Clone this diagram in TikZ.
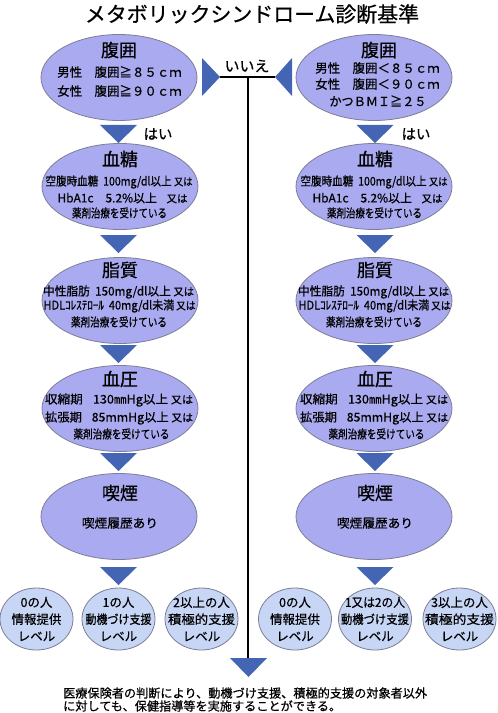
\documentclass[tikz,border=0pt]{standalone}
\usepackage{fontspec}
\usepackage{graphicx}
\setmainfont{Noto Sans CJK JP}[FakeBold=0.6]
\usetikzlibrary{shapes.geometric}
\definecolor{ellfill}{RGB}{170,170,240}
\definecolor{cirfill}{RGB}{200,214,246}
\definecolor{tri}{RGB}{68,100,180}
\definecolor{edge}{RGB}{125,125,150}
\newcommand\mymata{{\fontsize{10.5}{12}\selectfont 又は}}
\newcommand\fitw[2]{\resizebox{#1bp}{\height}{#2}}
\begin{document}
\begin{tikzpicture}[x=1bp,y=-1bp,
  big/.style={ellipse,draw=edge,fill=ellfill,line width=0.8bp,minimum width=156bp,minimum height=86bp,inner sep=0},
  small/.style={ellipse,draw=edge,fill=cirfill,line width=0.8bp,minimum width=73bp,minimum height=62bp,inner sep=0},
  head/.style={font=\fontsize{18}{20}\selectfont,inner sep=0},
  body/.style={font=\fontsize{12.5}{14}\selectfont,inner sep=0},
  bodys/.style={font=\fontsize{12}{13}\selectfont,inner sep=0},
  sm/.style={font=\fontsize{12.5}{17}\selectfont,inner sep=0,align=center},
  conn/.style={line width=2bp,draw=black}
]
\useasboundingbox (0,0) rectangle (498,713);
\fill[white] (0,0) rectangle (498,713);

% title
\node[font=\fontsize{21}{24}\selectfont,inner sep=0] (title) at (252,14) {メタボリックシンドローム診断基準};

% connectors
\coordinate (hl) at (220,77);
\coordinate (hr) at (275,77);
\coordinate (jn) at (248,77);
\coordinate (bt) at (248,659);
\draw[conn] (hl) -- (hr);
\draw[conn] (jn) -- (bt);
\fill[tri] (202,58) -- (220,77) -- (202,96) -- cycle;
\fill[tri] (292,58) -- (275,77) -- (292,96) -- cycle;
\fill[tri] (230,658) -- (267,658) -- (248.5,677) -- cycle;
\node[font=\fontsize{15}{17}\selectfont,inner sep=0] (iie) at (247,66) {いいえ};

% ellipses left
\node[big] (fL) at (119,77.5) {};
\node[big] (kL) at (120,186.5) {};
\node[big] (sL) at (120,300.5) {};
\node[big] (aL) at (120,408.5) {};
\node[big] (eL) at (119,516.5) {};
% ellipses right
\node[big] (fR) at (374,77.5) {};
\node[big] (kR) at (374,186.5) {};
\node[big] (sR) at (374,300.5) {};
\node[big] (aR) at (374,408.5) {};
\node[big] (eR) at (374,516.5) {};

% down triangles
\foreach \cx in {118.5,375}{
  \foreach \ty in {125,235,345,453,567}{
    \fill[tri] (\cx-18.5,\ty) -- (\cx+18.5,\ty) -- (\cx,\ty+18) -- cycle;
  }
}
\node[font=\fontsize{14.5}{16}\selectfont,inner sep=0] (haiL) at (158,134) {はい};
\node[font=\fontsize{14.5}{16}\selectfont,inner sep=0] (haiR) at (416,134) {はい};

% 腹囲 left
\node[head] (fLh) at (119,50) {腹囲};
\node[body] (fL1) at (119.5,72) {男性　腹囲≧８５ｃｍ};
\node[body] (fL2) at (119.5,91) {女性　腹囲≧９０ｃｍ};
% 腹囲 right
\node[head] (fRh) at (379,50) {腹囲};
\node[body] (fR1) at (377.5,68) {男性　腹囲＜８５ｃｍ};
\node[body] (fR2) at (377.5,84) {女性　腹囲＜９０ｃｍ};
\node[body] (fR3) at (378,101) {\fitw{97}{かつＢＭＩ≧２５}};

\foreach \side/\cx in {L/120,R/375}{
  % 血糖
  \node[head] (k\side h) at (\cx,159) {血糖};
  \node[bodys] (k\side 1) at (\cx-1,182) {\fitw{147}{空腹時血糖\ \ 100mg/dl以上\ \mymata}};
  \node[bodys] (k\side 2) at (\cx+2.5,198) {\fitw{130}{HbA1c\hspace{1em}5.2\%以上\hspace{0.8em}\mymata}};
  \node[bodys] (k\side 3) at (\cx-0.5,213) {\fitw{95}{薬剤治療を受けている}};
  % 脂質
  \node[head] (s\side h) at (\cx,270) {脂質};
  \node[bodys] (s\side 1) at (\cx-1.5,292) {\fitw{151}{中性脂肪\ \ 150mg/dl以上\ \mymata}};
  \node[bodys] (s\side 2) at (\cx-0.5,306) {\fitw{152}{HDLｺﾚｽﾃﾛｰﾙ\ \ 40mg/dl未満\,\mymata}};
  \node[bodys] (s\side 3) at (\cx-1,322) {\fitw{96}{薬剤治療を受けている}};
  % 血圧
  \node[head] (a\side h) at (\cx,379) {血圧};
  \node[bodys] (a\side 1) at (\cx-1,400) {\fitw{148}{収縮期\hspace{0.8em}130㎜Hg以上\ \mymata}};
  \node[bodys] (a\side 2) at (\cx-1,418) {\fitw{148}{拡張期\hspace{0.8em}85mmHg以上\ \mymata}};
  \node[bodys] (a\side 3) at (\cx+1.5,434) {\fitw{96}{薬剤治療を受けている}};
  % 喫煙
  \node[head] (e\side h) at (\cx,493) {喫煙};
  \node[body] (e\side 1) at (\cx,523) {\fitw{76}{喫煙履歴あり}};
}

% small circles
\node[small] (c1) at (36.5,619) {};
\node[small] (c2) at (118.5,619) {};
\node[small] (c3) at (201.5,619) {};
\node[small] (c4) at (295,619) {};
\node[small] (c5) at (375,619) {};
\node[small] (c6) at (459.5,619) {};
\node[sm] (t1) at (c1) {0の人\\情報提供\\レベル};
\node[sm] (t2) at (c2) {1の人\\\fitw{66}{動機づけ支援}\\レベル};
\node[sm] (t3) at (c3) {2以上の人\\\fitw{67}{積極的支援}\\レベル};
\node[sm] (t4) at (c4) {0の人\\情報提供\\レベル};
\node[sm] (t5) at (c5) {\fitw{60}{1又は2の人}\\\fitw{68}{動機づけ支援}\\レベル};
\node[sm] (t6) at (c6) {3以上の人\\\fitw{69}{積極的支援}\\レベル};

% bottom note
\node[anchor=west,inner sep=0,align=left,font=\fontsize{12.2}{13}\selectfont] (note) at (63,699.5) {医療保険者の判断により、動機づけ支援、積極的支援の対象者以外\\に対しても、保健指導等を実施することができる。};
\end{tikzpicture}
\end{document}
